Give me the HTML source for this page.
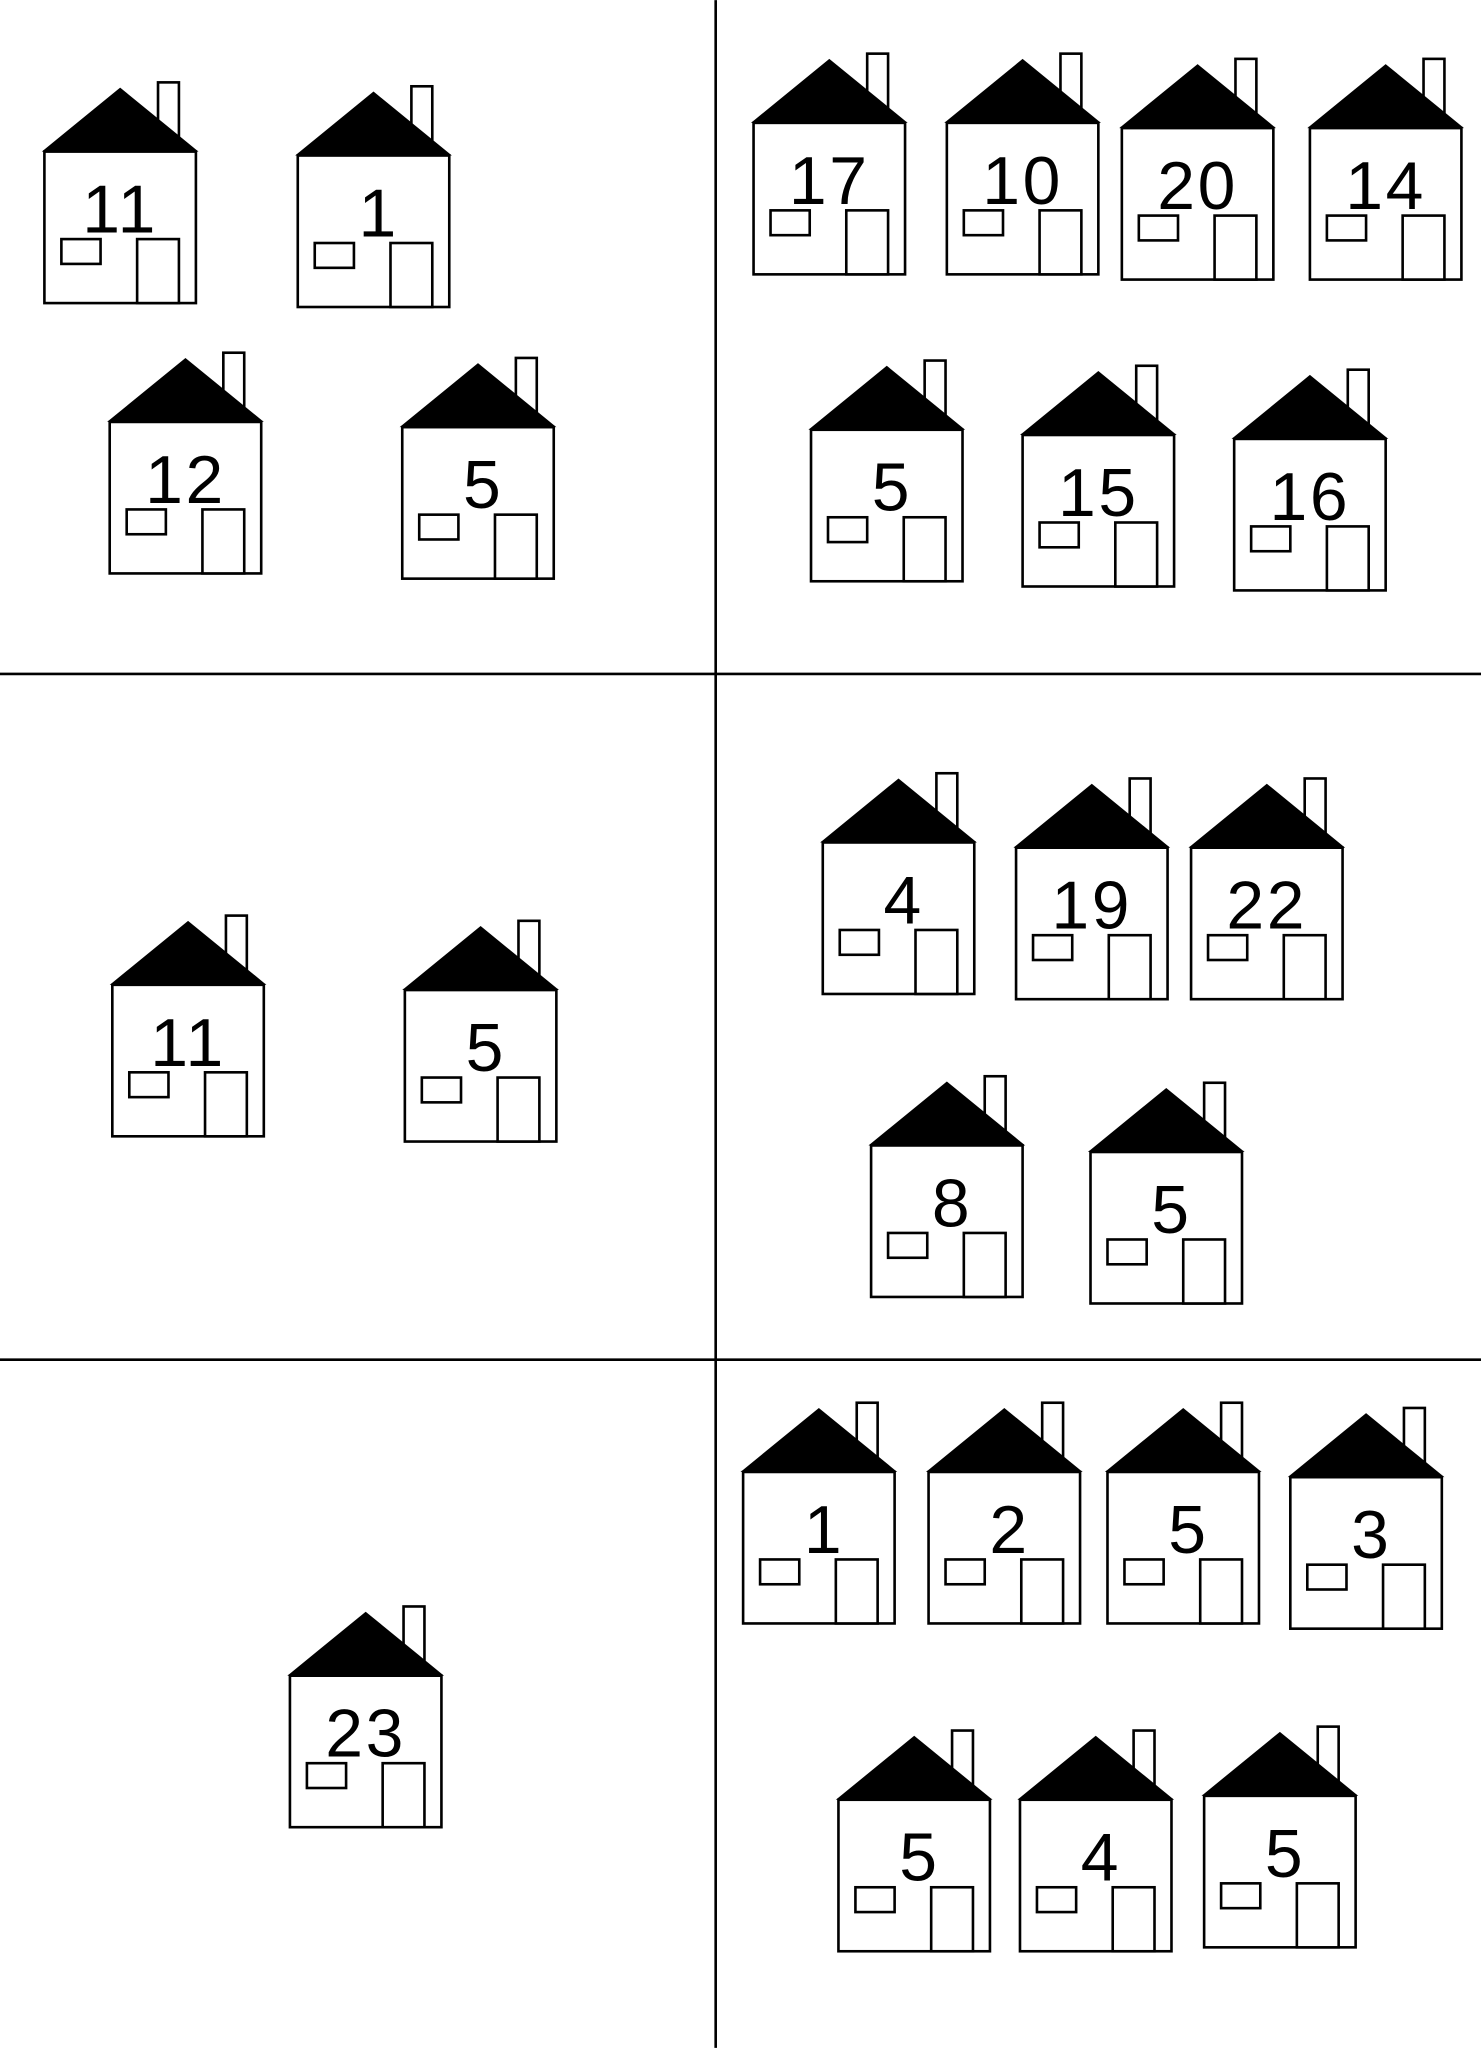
<!DOCTYPE html>
<html><head><meta charset="utf-8"><style>
html,body{margin:0;padding:0;background:#fff}
svg{display:block}
text{font-family:"Liberation Sans",sans-serif}
</style></head><body>
<svg id="s" width="1481" height="2048" viewBox="0 0 1134 1568" xmlns="http://www.w3.org/2000/svg">
<rect width="1134" height="1568" fill="#fff"/>
<line x1="548" y1="0" x2="548" y2="1568" stroke="#000" stroke-width="2"/>
<line x1="0" y1="516" x2="1134" y2="516" stroke="#000" stroke-width="2"/>
<line x1="0" y1="1041" x2="1134" y2="1041" stroke="#000" stroke-width="2"/>
</svg>
<script>
const houseNumbers = [11,1,12,5, 17,10,20,14,5,15,16, 11,5, 4,19,22,8,5, 23, 1,2,5,3,5,4,5];
const houseX = [34,228,84,308, 577,725,859,1003,621,783,945, 86,310, 630,778,912,667,835, 222, 569,711,848,988,642,781,922];
const houseY = [116,119,323,327, 94,94,98,98,329,333,336, 754,758, 645,649,649,877,882, 1283, 1127,1127,1127,1131,1378,1378,1375];
const NS='http://www.w3.org/2000/svg';
const s=document.getElementById('s');
function mk(t,a,p){const e=document.createElementNS(NS,t);for(const k in a)e.setAttribute(k,a[k]);p.appendChild(e);return e;}
houseNumbers.forEach((n,i)=>{
  const x=houseX[i], y=houseY[i];
  const g=mk('g',{},s);
  
  
  const st={fill:'#fff',stroke:'#000','stroke-width':2};
  const ch=mk('rect',Object.assign({x:x+87,y:y-53,width:16,height:45},st),g);
  
  
  const roof=mk('polygon',{points:`${x-2},${y} ${x+58},${y-49} ${x+118},${y}`,fill:'#000'},g);
  
  
  const wall=mk('rect',Object.assign({x:x,y:y,width:116,height:116},st,{fill:'none'}),g);
  
  
  const win=mk('rect',Object.assign({x:x+13,y:y+67,width:30,height:19},st),g);
  
  
  const door=mk('rect',Object.assign({x:x+71,y:y+67,width:32,height:49},st),g);
  
  
  const t=mk('text',{x:x+(n<10?62:58),y:y+62,'font-size':52,'letter-spacing':2,'text-anchor':'middle',fill:'#000'},g);
  t.textContent=String(n);
  
  
});
</script>
</body></html>
